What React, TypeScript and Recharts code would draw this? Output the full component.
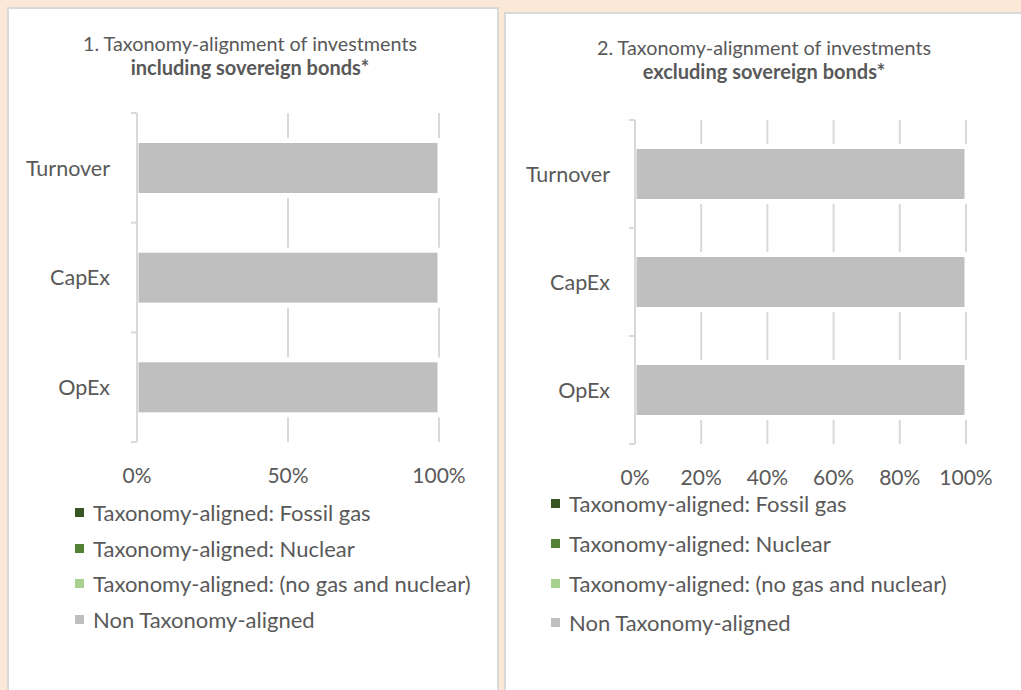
import React from 'react';
import { BarChart, Bar, XAxis, YAxis, CartesianGrid, Legend } from 'recharts';

const categories = ['Turnover', 'CapEx', 'OpEx'];

// Chart 1: including sovereign bonds (values in %)
const fossilGasIncl = [0, 0, 0];
const nuclearIncl = [0, 0, 0];
const otherAlignedIncl = [0, 0, 0];
const nonAlignedIncl = [100, 100, 100];

// Chart 2: excluding sovereign bonds (values in %)
const fossilGasExcl = [0, 0, 0];
const nuclearExcl = [0, 0, 0];
const otherAlignedExcl = [0, 0, 0];
const nonAlignedExcl = [100, 100, 100];

const seriesKeys = ['fossil', 'nuclear', 'other', 'non'];
const seriesNames = [
  'Taxonomy-aligned: Fossil gas',
  'Taxonomy-aligned: Nuclear',
  'Taxonomy-aligned: (no gas and nuclear)',
  'Non Taxonomy-aligned',
];
const seriesColors = ['#375623', '#548235', '#a9d18e', '#bfbfbf'];

const ticksIncl = [0, 50, 100];
const ticksExcl = [0, 20, 40, 60, 80, 100];

const titleLine1Incl = '1. Taxonomy-alignment of investments';
const titleLine2Incl = 'including sovereign bonds*';
const titleLine1Excl = '2. Taxonomy-alignment of investments';
const titleLine2Excl = 'excluding sovereign bonds*';

const buildData = (a: number[], b: number[], c: number[], d: number[]) =>
  categories.map((name, i) => ({ name, fossil: a[i], nuclear: b[i], other: c[i], non: d[i] }));

const dataIncl = buildData(fossilGasIncl, nuclearIncl, otherAlignedIncl, nonAlignedIncl);
const dataExcl = buildData(fossilGasExcl, nuclearExcl, otherAlignedExcl, nonAlignedExcl);

const FONT = 'Lato, "Open Sans", sans-serif';
const TEXT = '#595959';
const GRID = '#d9d9d9';

const PaddedBar = (props: any) => {
  const { x, y, width, height, fill } = props;
  if (!width || width <= 0) return null;
  return (
    <g>
      <rect x={x + 1} y={y - 5} width={width + 6} height={height + 10} fill="#ffffff" />
      <rect x={x + 1.5} y={y} width={width - 3} height={height} fill={fill} />
    </g>
  );
};

const makeCatTick = (tickMargin: number, count: number) => (props: any) => {
  const { x, y, payload, index } = props;
  const off = payload && typeof payload.offset === 'number' && payload.offset > 0 ? payload.offset : 54;
  const axisX = x + tickMargin;
  return (
    <g>
      <line x1={axisX - 6} x2={axisX} y1={y - off} y2={y - off} stroke={GRID} strokeWidth={2} />
      {index === count - 1 && (
        <line x1={axisX - 6} x2={axisX} y1={y + off} y2={y + off} stroke={GRID} strokeWidth={2} />
      )}
      <text x={x} y={y} dy="0.36em" textAnchor="end" fill={TEXT} fontSize={21.5} fontFamily={FONT}>
        {payload.value}
      </text>
    </g>
  );
};

const makeLegend = (rowHeight: number) => (props: any) => {
  const payload: any[] = props.payload || [];
  const items = seriesNames.map((n, i) => {
    const p = payload.find((q) => q.value === n);
    return { name: n, color: p ? p.color : seriesColors[i] };
  });
  return (
    <div style={{ fontFamily: FONT, fontSize: 22, color: TEXT }}>
      {items.map((it) => (
        <div key={it.name} style={{ display: 'flex', alignItems: 'center', height: rowHeight, whiteSpace: 'nowrap' }}>
          <span style={{ display: 'inline-block', width: 9, height: 9, background: it.color, marginRight: 9 }} />
          <span>{it.name}</span>
        </div>
      ))}
    </div>
  );
};

type ChartProps = {
  data: any[];
  ticks: number[];
  width: number;
  height: number;
  margin: { top: number; right: number; bottom: number; left: number };
  catWidth: number;
  catMargin: number;
  legendLeft: number;
  legendTop: number;
  legendRow: number;
};

const TaxChart = ({ data, ticks, width, height, margin, catWidth, catMargin, legendLeft, legendTop, legendRow }: ChartProps) => (
  <BarChart layout="vertical" width={width} height={height} data={data} margin={margin} barSize={50}>
    <CartesianGrid horizontal={false} vertical={true} stroke={GRID} strokeWidth={2} />
    <XAxis
      type="number"
      domain={[0, 100]}
      ticks={ticks}
      tickFormatter={(v: number) => `${v}%`}
      axisLine={false}
      tickLine={false}
      tickSize={0}
      tickMargin={26}
      height={30}
      interval={0}
      tick={{ fill: TEXT, fontSize: 21, fontFamily: FONT }}
    />
    <YAxis
      type="category"
      dataKey="name"
      width={catWidth}
      axisLine={{ stroke: GRID, strokeWidth: 2 }}
      tickLine={false}
      tickSize={0}
      tickMargin={catMargin}
      interval={0}
      tick={makeCatTick(catMargin, data.length)}
    />
    {seriesKeys.map((k, i) => (
      <Bar
        key={k}
        dataKey={k}
        name={seriesNames[i]}
        stackId="a"
        fill={seriesColors[i]}
        isAnimationActive={false}
        shape={k === 'non' ? PaddedBar : undefined}
      />
    ))}
    <Legend
      layout="vertical"
      align="center"
      verticalAlign="middle"
      content={makeLegend(legendRow)}
      wrapperStyle={{ left: legendLeft, top: legendTop, width: 'auto' }}
    />
  </BarChart>
);

const titleStyle = (centerX: number, top: number): React.CSSProperties => ({
  position: 'absolute',
  left: centerX - 220,
  width: 440,
  top,
  textAlign: 'center',
  fontFamily: FONT,
  fontSize: 19.8,
  lineHeight: '24px',
  color: TEXT,
});

export default function App() {
  return (
    <div style={{ position: 'absolute', left: 0, top: 0, width: 1021, height: 690, background: '#fbe8d7', overflow: 'hidden' }}>
      <div style={{ position: 'absolute', left: 7, top: 7, width: 488, height: 700, background: '#fff', border: '2px solid #d9d9d9' }} />
      <div style={{ position: 'absolute', left: 504, top: 12, width: 530, height: 700, background: '#fff', border: '2px solid #d9d9d9' }} />

      <div style={titleStyle(250, 31)}>
        <div>{titleLine1Incl}</div>
        <div style={{ fontWeight: 'bold', fontSize: 20 }}>{titleLine2Incl}</div>
      </div>
      <div style={titleStyle(764, 35)}>
        <div>{titleLine1Excl}</div>
        <div style={{ fontWeight: 'bold', fontSize: 20 }}>{titleLine2Excl}</div>
      </div>

      <div style={{ position: 'absolute', left: 8, top: 8 }}>
        <TaxChart
          data={dataIncl}
          ticks={ticksIncl}
          width={489}
          height={682}
          margin={{ top: 105, right: 58, bottom: 218, left: 0 }}
          catWidth={129}
          catMargin={27}
          legendLeft={67}
          legendTop={487}
          legendRow={35.5}
        />
      </div>
      <div style={{ position: 'absolute', left: 505, top: 13 }}>
        <TaxChart
          data={dataExcl}
          ticks={ticksExcl}
          width={516}
          height={677}
          margin={{ top: 107, right: 55, bottom: 216, left: 0 }}
          catWidth={130}
          catMargin={25}
          legendLeft={46}
          legendTop={471}
          legendRow={39.7}
        />
      </div>
    </div>
  );
}
